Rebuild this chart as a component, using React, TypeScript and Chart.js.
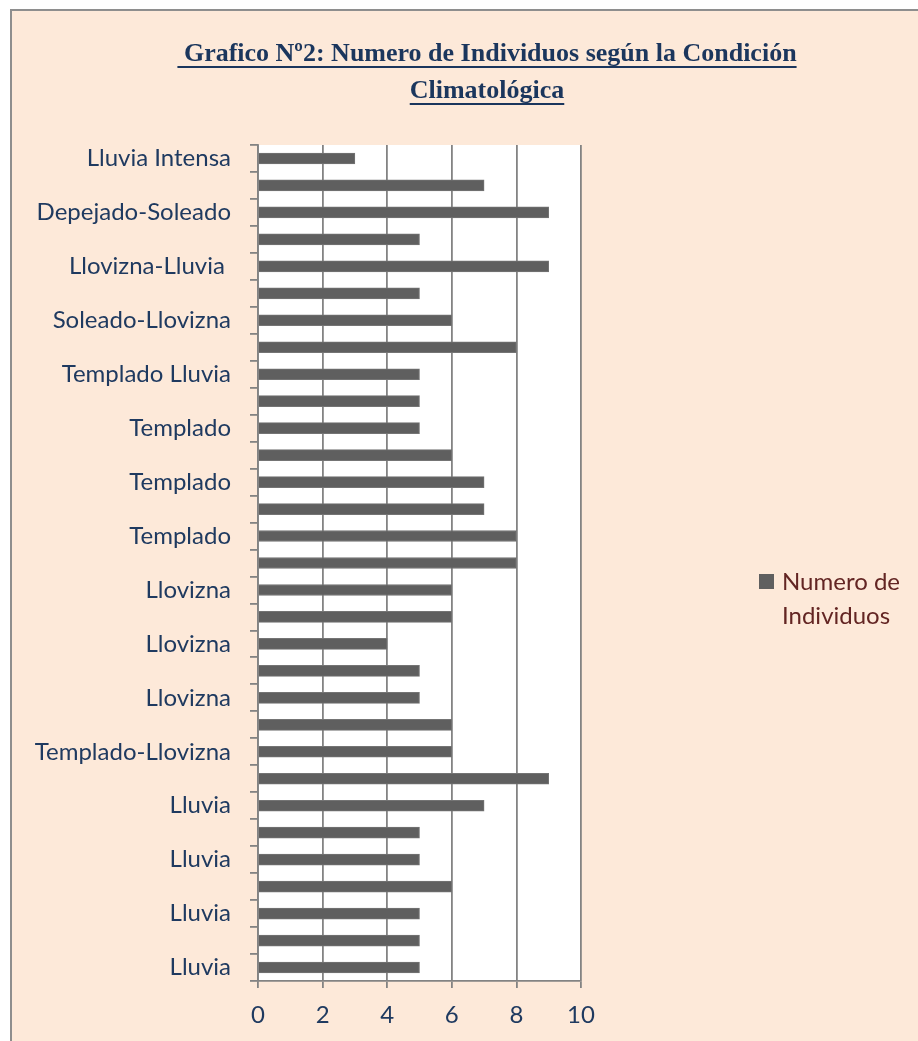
import React, { useEffect, useRef } from 'react';
import { Chart, registerables } from 'chart.js';

Chart.register(...registerables);

// ---- Data (top to bottom, as drawn) ----
const categoryLabels: string[] = [
  'Lluvia Intensa', '', 'Depejado-Soleado', '', 'Llovizna-Lluvia ', '', 'Soleado-Llovizna', '',
  'Templado Lluvia', '', 'Templado', '', 'Templado', '', 'Templado', '',
  'Llovizna', '', 'Llovizna', '', 'Llovizna', '', 'Templado-Llovizna', '',
  'Lluvia', '', 'Lluvia', '', 'Lluvia', '', 'Lluvia',
];
const individuos: number[] = [
  3, 7, 9, 5, 9, 5, 6, 8, 5, 5, 5, 6, 7, 7, 8, 8,
  6, 6, 4, 5, 5, 6, 6, 9, 7, 5, 5, 6, 5, 5, 5,
];
const seriesName = 'Numero de Individuos';
const legendLines: string[] = ['Numero de', 'Individuos'];
const titleLines: string[] = [' Grafico Nº2: Numero de Individuos según la Condición', 'Climatológica'];
const xTicksMin = 0;
const xTicksMax = 10;
const xTickStep = 2;

// ---- Styles ----
const PEACH = '#FDE9D9';
const NAVY = '#1F3A60';
const TITLE_NAVY = '#1B365D';
const LEGEND_RED = '#632523';
const BAR = '#5F5F5F';
const GRID = '#838383';
const LABEL_FONT = 'Lato';

const backgroundPlugin = {
  id: 'bgFill',
  beforeDraw(chart: any) {
    const { ctx, chartArea, width, height } = chart;
    ctx.save();
    ctx.fillStyle = PEACH;
    ctx.fillRect(0, 0, width, height);
    ctx.fillStyle = '#FFFFFF';
    ctx.fillRect(chartArea.left, chartArea.top, chartArea.right - chartArea.left, chartArea.bottom - chartArea.top);
    ctx.restore();
  },
};

const titlePlugin = {
  id: 'underlinedTitle',
  afterDraw(chart: any) {
    const { ctx } = chart;
    ctx.save();
    ctx.font = 'bold 26px "Liberation Serif"';
    ctx.fillStyle = TITLE_NAVY;
    ctx.textAlign = 'left';
    ctx.textBaseline = 'alphabetic';
    const cx = 475;
    titleLines.forEach((line, i) => {
      const w = ctx.measureText(line).width;
      const x = cx - w / 2;
      const y = 50 + i * 37;
      ctx.fillText(line, x, y);
      ctx.fillRect(x, y + 5, w, 2);
    });
    ctx.restore();
  },
};

const legendPlugin = {
  id: 'wrappedLegend',
  afterDraw(chart: any) {
    const { ctx, chartArea } = chart;
    const x0 = chartArea.right + 178;
    const y0 = 563;
    ctx.save();
    ctx.fillStyle = BAR;
    ctx.fillRect(x0, y0, 15, 15);
    ctx.font = `24px ${LABEL_FONT}`;
    ctx.fillStyle = LEGEND_RED;
    ctx.textAlign = 'left';
    ctx.textBaseline = 'alphabetic';
    legendLines.forEach((line, i) => {
      ctx.fillText(line, x0 + 23, y0 + 16 + i * 34);
    });
    ctx.restore();
  },
};

export default function App() {
  const canvasRef = useRef<HTMLCanvasElement | null>(null);

  useEffect(() => {
    if (!canvasRef.current) return;
    const chart = new Chart(canvasRef.current, {
      type: 'bar',
      data: {
        labels: categoryLabels,
        datasets: [
          {
            label: seriesName,
            data: individuos,
            backgroundColor: BAR,
            borderColor: '#747474',
            borderWidth: 1,
            barThickness: 11,
            categoryPercentage: 1,
          },
        ],
      },
      options: {
        indexAxis: 'y',
        responsive: true,
        maintainAspectRatio: false,
        animation: false,
        layout: { padding: { top: 134, right: 337, left: 0, bottom: 0 } },
        plugins: {
          legend: { display: false },
          title: { display: false },
          tooltip: { enabled: false },
        },
        scales: {
          x: {
            min: xTicksMin,
            max: xTicksMax,
            ticks: {
              stepSize: xTickStep,
              color: NAVY,
              font: { family: LABEL_FONT, size: 24 },
              padding: 13,
            },
            grid: { color: GRID, lineWidth: 1.8, tickLength: 7, drawTicks: true },
            border: { color: GRID, width: 1.8 },
            afterFit(scale: any) {
              scale.height = 60;
            },
          },
          y: {
            ticks: {
              autoSkip: false,
              color: NAVY,
              font: { family: LABEL_FONT, size: 24 },
              padding: 19,
            },
            grid: {
              drawOnChartArea: false,
              drawTicks: true,
              tickLength: 8,
              color: GRID,
              lineWidth: 1.8,
              offset: true,
            },
            border: { color: GRID, width: 1.8 },
            afterFit(scale: any) {
              scale.width = 246;
            },
          },
        },
      },
      plugins: [backgroundPlugin, titlePlugin, legendPlugin],
    });
    return () => chart.destroy();
  }, []);

  return (
    <div style={{ position: 'fixed', inset: 0, overflow: 'hidden', background: '#FFFFFF' }}>
      <div
        style={{
          position: 'absolute',
          left: 10,
          top: 9,
          width: 906,
          height: 1030,
          borderLeft: '2px solid #8e8e8e',
          borderTop: '2px solid #8e8e8e',
          background: PEACH,
        }}
      >
        <div style={{ position: 'relative', width: 906, height: 1030 }}>
          <canvas ref={canvasRef} />
        </div>
      </div>
    </div>
  );
}
